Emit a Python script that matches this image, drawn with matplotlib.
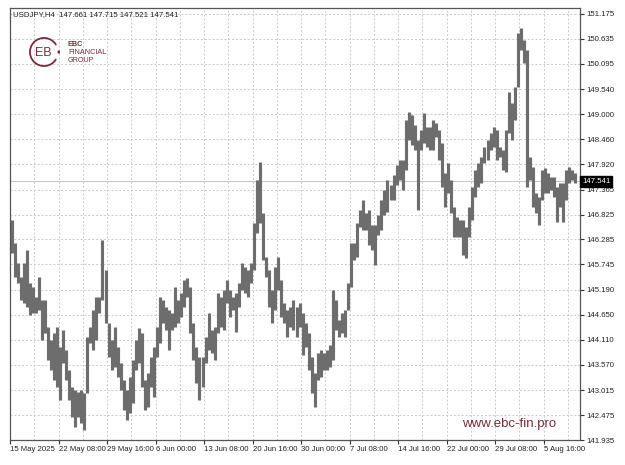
"""
USDJPY H4 price chart, MetaTrader style, with EBC branding.
"""

import matplotlib

matplotlib.use("Agg")

import matplotlib.pyplot as plt
import numpy as np
from matplotlib.patches import Arc, Circle

plt.rcParams["font.family"] = ["Liberation Sans", "DejaVu Sans"]

# one entry per pair of H4 bars (8 hours)
bar_high = [
    146.71, 146.21, 145.77, 145.47, 145.77, 146.06, 145.34, 145.25, 145.04, 145.47,
    144.97, 144.97, 144.39, 144.10, 144.26, 144.39, 143.95, 144.32, 143.89, 143.45,
    143.08, 143.02, 142.98, 143.02, 142.95, 144.17, 144.39, 144.75, 145.04, 145.04,
    146.27, 145.62, 144.47, 144.10, 144.39, 143.95, 143.60, 143.24, 143.02, 143.30,
    143.67, 144.10, 144.36, 144.26, 143.24, 143.39, 143.74, 143.95, 144.39, 145.04,
    144.97, 144.82, 144.75, 144.69, 145.25, 144.97, 145.12, 145.41, 145.45, 145.25,
    144.47, 143.95, 143.74, 143.74, 144.17, 144.69, 144.32, 144.39, 145.12, 145.04,
    145.19, 145.41, 145.19, 145.04, 145.12, 145.34, 145.77, 145.69, 145.62, 145.77,
    146.64, 147.57, 147.96, 146.86, 145.90, 145.62, 145.19, 145.69, 145.90, 145.41,
    144.91, 144.75, 144.82, 144.97, 144.82, 144.91, 144.69, 144.47, 144.26, 143.74,
    143.39, 143.82, 143.89, 143.82, 143.89, 144.00, 145.19, 144.97, 144.54, 144.69,
    144.75, 145.34, 146.21, 146.21, 146.64, 146.92, 147.14, 146.86, 146.92, 146.60,
    146.60, 146.81, 147.14, 147.36, 147.57, 147.47, 147.68, 147.90, 148.01, 148.01,
    148.88, 149.05, 148.98, 148.77, 148.44, 148.66, 149.03, 148.72, 148.72, 148.88,
    148.81, 148.66, 148.38, 147.73, 147.94, 147.57, 146.99, 146.77, 146.71, 146.71,
    146.55, 146.99, 147.42, 147.79, 147.94, 148.07, 148.29, 148.44, 148.59, 148.72,
    148.66, 148.29, 148.22, 148.66, 149.48, 149.24, 149.59, 150.76, 150.87, 150.61,
    150.39, 148.07, 147.86, 147.29, 147.21, 147.79, 147.83, 147.73, 147.64, 147.64,
    147.42, 147.51, 147.51, 147.79, 147.86, 147.79, 147.73,
]

bar_low = [
    145.99, 145.47, 145.34, 144.97, 144.91, 144.82, 144.65, 144.69, 144.69, 144.75,
    144.10, 144.26, 143.67, 143.45, 143.24, 143.08, 142.80, 143.60, 143.24, 142.80,
    142.43, 142.22, 142.43, 142.30, 142.15, 142.95, 144.04, 143.89, 144.10, 144.69,
    144.97, 144.47, 143.74, 143.45, 143.52, 143.30, 143.02, 142.59, 142.37, 142.52,
    142.74, 143.45, 143.60, 143.08, 142.59, 142.65, 143.08, 142.87, 143.74, 144.04,
    144.47, 144.32, 143.89, 144.32, 144.39, 144.47, 144.60, 144.82, 145.04, 144.26,
    143.67, 143.17, 142.80, 143.08, 143.60, 143.89, 143.82, 143.67, 144.26, 144.39,
    144.32, 144.91, 144.60, 144.75, 144.28, 144.82, 145.19, 145.12, 145.04, 145.34,
    145.62, 146.42, 146.64, 145.84, 145.47, 144.82, 144.47, 144.75, 145.19, 144.60,
    144.47, 144.17, 144.39, 144.32, 144.17, 144.39, 143.78, 143.95, 143.45, 142.95,
    142.65, 143.24, 143.30, 143.45, 143.45, 143.52, 143.67, 144.32, 144.17, 144.26,
    144.17, 144.75, 145.25, 145.84, 145.90, 146.55, 146.49, 146.49, 146.16, 146.06,
    145.73, 146.38, 146.49, 146.81, 146.88, 147.14, 147.14, 147.47, 147.57, 147.36,
    147.79, 148.44, 148.33, 148.22, 146.92, 148.22, 148.38, 148.29, 148.22, 148.22,
    148.51, 148.01, 147.42, 146.99, 147.29, 146.86, 146.34, 146.34, 146.34, 145.95,
    145.88, 146.34, 146.71, 147.20, 147.42, 147.51, 147.94, 148.01, 148.22, 148.29,
    148.01, 148.07, 147.79, 147.75, 148.59, 148.44, 148.88, 149.59, 150.39, 150.11,
    147.42, 147.57, 146.99, 146.86, 146.60, 147.14, 147.29, 147.29, 147.36, 147.20,
    146.66, 146.99, 146.66, 147.14, 147.51, 147.57, 147.51,
]

last_ohlc = [147.661, 147.715, 147.521, 147.541]
symbol = "USDJPY,H4"

time_labels = [
    "15 May 2025", "22 May 08:00", "29 May 16:00", "6 Jun 00:00",
    "13 Jun 08:00", "20 Jun 16:00", "30 Jun 00:00", "7 Jul 08:00",
    "14 Jul 16:00", "22 Jul 00:00", "29 Jul 08:00", "5 Aug 16:00",
]
price_ticks = [
    151.175, 150.635, 150.095, 149.540, 149.000, 148.460, 147.920, 147.365,
    146.825, 146.285, 145.745, 145.190, 144.650, 144.110, 143.570, 143.015,
    142.475, 141.935,
]

BARS_PER_COLUMN = 2
BARS_PER_LABEL = 32
BAR_COLOR = "#6d6d6d"
BRAND = "#7a2b3a"
GRID = "#cacaca"

W, H = 625, 465

fig = plt.figure(figsize=(W / 100, H / 100), dpi=100)
fig.patch.set_facecolor("white")

# plot area in pixels: x 10..580, y 8..440
ax = fig.add_axes([10 / W, 25 / H, 570 / W, 432 / H])

x = np.arange(len(bar_high)) * BARS_PER_COLUMN + 1
ax.vlines(x, bar_low, bar_high, color=BAR_COLOR, linewidth=2.25)

ax.axhline(last_ohlc[3], color="#c8c8c8", linewidth=0.8, zorder=0)

ax.set_xlim(0, 376)
ax.set_ylim(141.935, 151.303)

ax.set_xticks(np.arange(len(time_labels)) * BARS_PER_LABEL)
ax.set_xticklabels(time_labels, ha="left")
ax.set_xticks(np.arange(0, 377, BARS_PER_LABEL // 2), minor=True)

ax.yaxis.tick_right()
ax.set_yticks(price_ticks)
ax.set_yticklabels([f"{p:.3f}" for p in price_ticks])

ax.tick_params(axis="both", which="major", direction="out", length=3,
               width=0.8, color="#333333", labelsize=5.6,
               labelcolor="#222222", pad=1.5)
ax.tick_params(axis="x", which="minor", length=0)

ax.grid(True, which="both", color=GRID, linestyle=(0, (2, 2)), linewidth=0.7)
ax.set_axisbelow(True)

for spine in ax.spines.values():
    spine.set_color("#555555")
    spine.set_linewidth(0.9)

# current price tag on the price scale
ax.text(1.004, last_ohlc[3], f"{last_ohlc[3]:.3f}",
        transform=ax.get_yaxis_transform(), ha="left", va="center",
        fontsize=5.6, color="white",
        bbox=dict(boxstyle="square,pad=0.25", facecolor="black",
                  edgecolor="black"))

header = f"{symbol}  " + " ".join(f"{v:.3f}" for v in last_ohlc)
ax.text(0.005, 0.992, header, transform=ax.transAxes, ha="left", va="top",
        fontsize=5.6, color="#222222")

# logo
logo_ax = fig.add_axes([28 / W, (H - 68) / H, 32 / W, 32 / H])
logo_ax.set_xlim(0, 32)
logo_ax.set_ylim(0, 32)
logo_ax.axis("off")
logo_ax.add_patch(Arc((16, 16), 28, 28, theta1=30, theta2=330,
                      color=BRAND, linewidth=1.3))
logo_ax.add_patch(Circle((31, 16), 0.9, color=BRAND))
logo_ax.text(15, 15.5, "EB", ha="center", va="center", fontsize=9,
             color=BRAND)

fig.text(68 / W, (H - 45) / H, "EBC", fontsize=5.2, fontweight="bold",
         color=BRAND, va="center")
fig.text(68 / W, (H - 52) / H, "FINANCIAL", fontsize=5.2, color=BRAND,
         va="center")
fig.text(68 / W, (H - 60) / H, "GROUP", fontsize=5.2, color=BRAND,
         va="center")

fig.text(462 / W, (H - 424) / H, "www.ebc-fin.pro", fontsize=9.5,
         color=BRAND, va="center")

fig.savefig("out.png", dpi=100)
plt.close(fig)
